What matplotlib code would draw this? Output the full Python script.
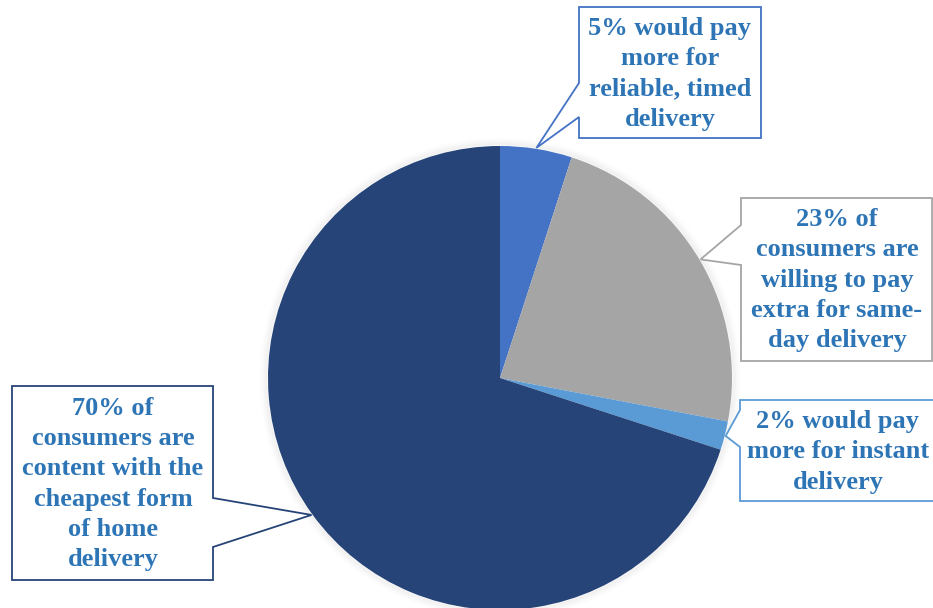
import numpy as np
import matplotlib.pyplot as plt
from matplotlib.patches import Polygon, Circle

# Share of consumers by delivery preference
values = [5, 23, 2, 70]
labels = [
    "5% would pay\nmore for\nreliable, timed\ndelivery",
    "23% of\nconsumers are\nwilling to pay\nextra for same-\nday delivery",
    "2% would pay\nmore for instant\ndelivery",
    "70% of\nconsumers are\ncontent with the\ncheapest form\nof home\ndelivery",
]
colors = ["#4472C4", "#A5A5A5", "#5B9BD5", "#264478"]
text_color = "#2E75B6"

W, H = 933, 608
fig = plt.figure(figsize=(W / 100, H / 100), dpi=100)
ax = fig.add_axes([0, 0, 1, 1])

cx, cy, R = 500, 378, 232

# soft shadow behind the pie
for i in range(8):
    ax.add_patch(Circle((cx, cy), R + 1 + i, facecolor="none",
                        edgecolor="black", alpha=0.035 * (8 - i) / 8,
                        linewidth=1.2, zorder=1))

wedges, _ = ax.pie(values, colors=colors, startangle=-90, counterclock=True,
                   center=(cx, cy), radius=R, frame=True,
                   wedgeprops=dict(linewidth=0, zorder=2))
ax.set_xlim(0, W)
ax.set_ylim(H, 0)
ax.set_aspect("equal")
ax.axis("off")

# callout boxes: (x0, y0, x1, y1, side, notch_a, notch_b)
boxes = [
    (579, 7, 761, 138, "left", 83, 117),
    (741, 198, 932, 361, "left", 225, 265),
    (740, 400, 945, 501, "left", 410, 447),
    (12, 386, 213, 580, "right", 498, 547),
]
text_centers = [(670, 74), (837, 280), (838, 452), (113, 484)]

total = sum(values)
cum = 0
for val, lab, col, box, tc in zip(values, labels, colors, boxes, text_centers):
    mid = (cum + val / 2) / total * 360.0
    cum += val
    theta = np.deg2rad(mid - 90)
    tip = (cx + (R + 1) * np.cos(theta), cy + (R + 1) * np.sin(theta))
    x0, y0, x1, y1, side, na, nb = box
    if side == "left":
        pts = [(x0, y0), (x1, y0), (x1, y1), (x0, y1), (x0, nb), tip, (x0, na)]
    else:
        pts = [(x0, y0), (x1, y0), (x1, na), tip, (x1, nb), (x1, y1), (x0, y1)]
    ax.add_patch(Polygon(pts, closed=True, facecolor="white", edgecolor=col,
                         linewidth=1.3, zorder=5, joinstyle="miter"))
    ax.text(tc[0], tc[1], lab, ha="center", va="center", color=text_color,
            fontsize=19, fontweight="bold", family="Liberation Serif",
            linespacing=1.4, zorder=6)

fig.savefig("out.png", dpi=100)
